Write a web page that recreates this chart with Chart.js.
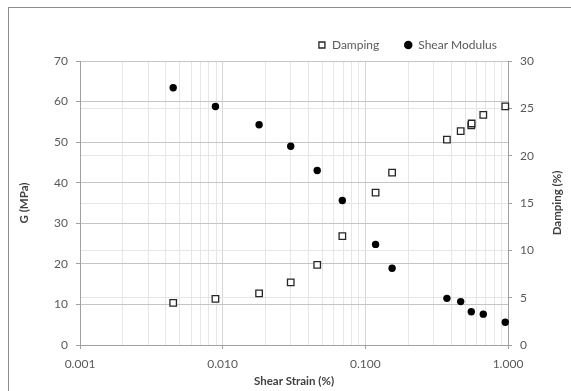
<!DOCTYPE html>
<html>
<head>
<meta charset="utf-8">
<script src="https://cdn.jsdelivr.net/npm/chart.js@4.4.1/dist/chart.umd.min.js"></script>
<style>
  html, body { margin: 0; padding: 0; background: #fff; }
  body { position: relative; width: 571px; height: 391px; overflow: hidden; }
  .frame { position: absolute; left: 8px; top: 7px; width: 640px; height: 440px; border: 1px solid #8c8c8c; }
  .wrap { position: absolute; left: 0; top: 0; width: 571px; height: 391px; }
</style>
</head>
<body>
<div class="frame"></div>
<div class="wrap"><canvas id="strainChart"></canvas></div>
<script>
// shear modulus tests
const strainPct = [0.0045, 0.0089, 0.018, 0.030, 0.046, 0.069, 0.118, 0.154, 0.373, 0.466, 0.553, 0.671, 0.957];
const shearModulus = [63.4, 58.8, 54.3, 49.0, 43.0, 35.6, 24.8, 18.9, 11.5, 10.7, 8.2, 7.6, 5.6];

// damping tests (two readings near 0.55 %)
const dampingStrainPct = [0.0045, 0.0089, 0.018, 0.030, 0.046, 0.069, 0.118, 0.154, 0.373, 0.466, 0.553, 0.556, 0.671, 0.957];
const dampingPct = [4.45, 4.87, 5.46, 6.62, 8.46, 11.5, 16.1, 18.2, 21.7, 22.6, 23.2, 23.4, 24.3, 25.2];

const strainDecades = [0.001, 0.01, 0.1, 1];
const strainLabels = ["0.001", "0.010", "0.100", "1.000"];

const textGrey = "#595959";
const titleGrey = "#404040";
const axisGrey = "#a0a0a0";

Chart.defaults.font.family = "Lato";

// gridline positions: 1..9 in every decade
const strainGrid = [];
strainDecades.forEach((d, i) => {
  if (i === strainDecades.length - 1) {
    strainGrid.push(d);
    return;
  }
  for (let k = 1; k <= 9; k++) strainGrid.push(Number((k * d).toPrecision(3)));
});

const decadeIndex = (v) => strainDecades.findIndex((d) => Math.abs(v - d) / d < 1e-6);

const toPoints = (xs, ys) => xs.map((x, i) => ({ x: x, y: ys[i] }));

// move legend so it ends near the right of the plot, like the original
const legendShift = {
  id: "legendShift",
  afterLayout(chart) {
    const lg = chart.legend;
    lg.left = chart.chartArea.left + 14;
    lg.right = chart.chartArea.right + 14;
  }
};

// right axis title reads bottom-to-top in the original
const rightTitle = {
  id: "rightTitle",
  afterDraw(chart) {
    const { ctx, chartArea } = chart;
    const y1 = chart.scales.y1;
    ctx.save();
    ctx.translate(y1.right - 14, (chartArea.top + chartArea.bottom) / 2);
    ctx.rotate(-Math.PI / 2);
    ctx.font = "bold 11.5px Lato";
    ctx.fillStyle = titleGrey;
    ctx.textAlign = "center";
    ctx.textBaseline = "middle";
    ctx.fillText("Damping (%)", 0, 0);
    ctx.restore();
  }
};

const ctx = document.getElementById("strainChart").getContext("2d");
const strainChart = new Chart(ctx, {
  type: "scatter",
  data: {
    datasets: [
      {
        label: "Damping",
        data: toPoints(dampingStrainPct, dampingPct),
        yAxisID: "y1",
        pointStyle: "rect",
        pointRadius: 4.6,
        pointHoverRadius: 4.6,
        backgroundColor: "#ffffff",
        borderColor: "#262626",
        borderWidth: 1.3,
        clip: false
      },
      {
        label: "Shear Modulus",
        data: toPoints(strainPct, shearModulus),
        yAxisID: "y",
        pointStyle: "circle",
        pointRadius: 3.7,
        pointHoverRadius: 3.7,
        backgroundColor: "#000000",
        borderColor: "#000000",
        borderWidth: 0,
        clip: false
      }
    ]
  },
  options: {
    responsive: true,
    maintainAspectRatio: false,
    animation: false,
    layout: { padding: { top: 14, left: 0, right: 0, bottom: 0 } },
    plugins: {
      tooltip: { enabled: false },
      legend: {
        position: "top",
        align: "end",
        fullSize: false,
        labels: {
          usePointStyle: true,
          boxWidth: 8,
          boxHeight: 6,
          padding: 25,
          color: textGrey,
          font: { family: "Lato", size: 12 }
        }
      }
    },
    scales: {
      x: {
        type: "logarithmic",
        min: 0.001,
        max: 1,
        afterBuildTicks: (scale) => {
          scale.ticks = strainGrid.map((v) => ({ value: v }));
        },
        afterFit: (scale) => { scale.height = 46; },
        ticks: {
          autoSkip: false,
          maxRotation: 0,
          padding: 8,
          color: textGrey,
          font: { size: 12 },
          callback: (v) => {
            const i = decadeIndex(v);
            return i >= 0 ? strainLabels[i] : "";
          }
        },
        grid: {
          color: (c) => (c.tick && decadeIndex(c.tick.value) >= 0 ? "#d6d6d6" : "#e6e6e6"),
          tickColor: (c) => (c.tick && decadeIndex(c.tick.value) >= 0 ? axisGrey : "rgba(0,0,0,0)"),
          tickLength: 4
        },
        border: { color: axisGrey, width: 1 },
        title: {
          display: true,
          text: "Shear Strain (%)",
          color: titleGrey,
          font: { size: 11.5, weight: "bold" },
          padding: { top: 0, bottom: 3 }
        }
      },
      y: {
        position: "left",
        min: 0,
        max: 70,
        afterFit: (scale) => { scale.width = 80; },
        ticks: { stepSize: 10, padding: 8, color: textGrey, font: { size: 12 } },
        grid: { color: "#c4c4c4", tickColor: axisGrey, tickLength: 4 },
        border: { color: axisGrey, width: 1 },
        title: {
          display: true,
          text: "G (MPa)",
          color: titleGrey,
          font: { size: 11.5, weight: "bold" },
          padding: { top: 17, bottom: 0 }
        }
      },
      y1: {
        position: "right",
        min: 0,
        max: 30,
        afterFit: (scale) => { scale.width = 63; },
        ticks: { stepSize: 5, padding: 8, color: textGrey, font: { size: 12 } },
        grid: {
          color: (c) => (c.tick && (c.tick.value === 0 || c.tick.value === 30) ? "rgba(0,0,0,0)" : "#e6e6e6"),
          tickColor: axisGrey,
          tickLength: 4
        },
        border: { color: axisGrey, width: 1 },
        title: { display: false }
      }
    }
  },
  plugins: [legendShift, rightTitle]
});
</script>
</body>
</html>
